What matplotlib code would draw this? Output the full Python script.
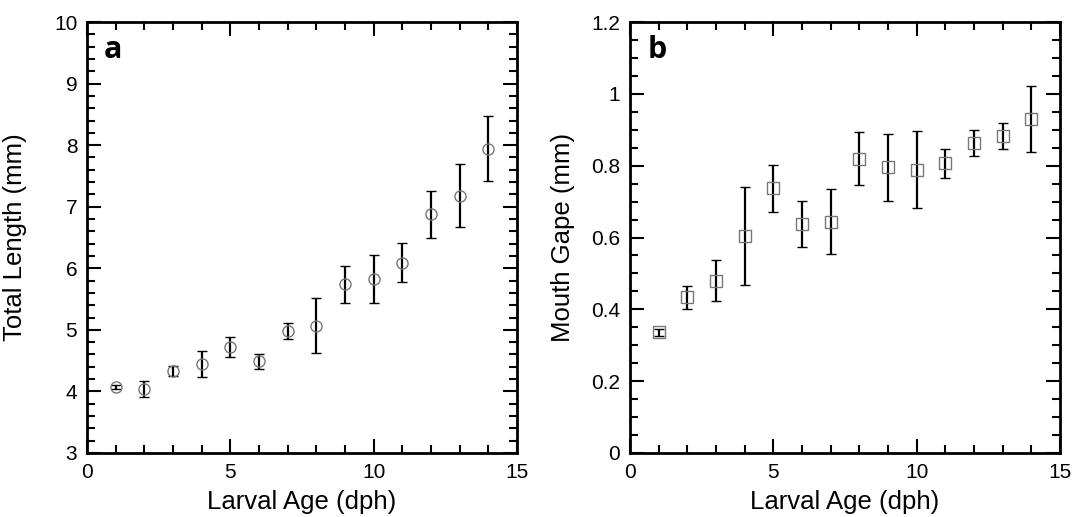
import matplotlib
matplotlib.use("Agg")
import matplotlib.pyplot as plt
from matplotlib.ticker import MultipleLocator

plt.rcParams['font.family'] = ['Liberation Sans', 'DejaVu Sans']

# larval age (days post hatch)
age = [1, 2, 3, 4, 5, 6, 7, 8, 9, 10, 11, 12, 13, 14]

# panel a: total length (mm)
total_length = [4.07, 4.04, 4.33, 4.45, 4.72, 4.49, 4.98, 5.07, 5.74, 5.82, 6.09, 6.88, 7.18, 7.94]
total_length_err = [0.03, 0.13, 0.08, 0.21, 0.16, 0.12, 0.13, 0.44, 0.30, 0.39, 0.32, 0.38, 0.51, 0.53]

# panel b: mouth gape (mm)
mouth_gape = [0.336, 0.433, 0.480, 0.605, 0.737, 0.638, 0.644, 0.819, 0.796, 0.789, 0.807, 0.863, 0.883, 0.930]
mouth_gape_err = [0.010, 0.031, 0.057, 0.136, 0.066, 0.064, 0.090, 0.074, 0.093, 0.108, 0.040, 0.035, 0.036, 0.093]


def style_axes(ax, ylim, ymajor, yminor, ylabel, letter, ylab_x):
    ax.set_xlim(0, 15)
    ax.set_ylim(*ylim)
    ax.xaxis.set_major_locator(MultipleLocator(5))
    ax.xaxis.set_minor_locator(MultipleLocator(1))
    ax.yaxis.set_major_locator(MultipleLocator(ymajor))
    ax.yaxis.set_minor_locator(MultipleLocator(yminor))
    ax.tick_params(which='both', direction='in', top=True, right=True,
                   labelsize=15, width=1.5, pad=7)
    ax.tick_params(which='major', length=10)
    ax.tick_params(which='minor', length=6)
    for sp in ax.spines.values():
        sp.set_linewidth(2)
    ax.set_xlabel('Larval Age (dph)', fontsize=18.5, va='center')
    ax.xaxis.set_label_coords(0.5, -0.113)
    ax.set_ylabel(ylabel, fontsize=18.5, va='center')
    ax.yaxis.set_label_coords(ylab_x, 0.5)
    ax.text(0.04, 0.97, letter, transform=ax.transAxes, fontsize=22,
            fontweight='bold', family=['Open Sans', 'DejaVu Sans'],
            va='top', ha='left')


fig = plt.figure(figsize=(10.86, 5.17), dpi=100)
ax1 = fig.add_axes([0.0801, 0.1238, 0.396, 0.8336])
ax2 = fig.add_axes([0.5801, 0.1238, 0.396, 0.8336])

ax1.errorbar(age, total_length, yerr=total_length_err, fmt='o', ms=8,
             mfc='none', mec='#777777', mew=1, ecolor='black', elinewidth=1.6,
             capsize=3.6, capthick=1.6)
style_axes(ax1, (3, 10), 1, 0.2, 'Total Length (mm)', 'a', -0.167)

ax2.errorbar(age, mouth_gape, yerr=mouth_gape_err, fmt='s', ms=8,
             mfc='none', mec='#777777', mew=1, ecolor='black', elinewidth=1.6,
             capsize=3.6, capthick=1.6)
style_axes(ax2, (0, 1.2), 0.2, 0.05, 'Mouth Gape (mm)', 'b', -0.156)
ax2.yaxis.set_major_formatter(plt.FuncFormatter(lambda v, p: f'{v:g}'))

fig.savefig('out.png', dpi=100)
